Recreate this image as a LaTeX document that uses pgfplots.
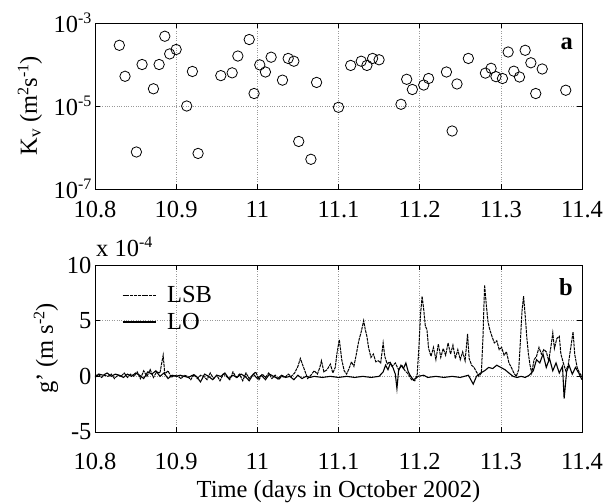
\documentclass[border=0pt]{standalone}
\usepackage{fontspec}
\setmainfont{Liberation Serif}
\usepackage{pgfplots}
\pgfplotsset{compat=1.18}
\newcommand{\ff}{\fontsize{24.5bp}{28bp}\selectfont}
\newcommand{\sups}[1]{\raisebox{0.75ex}{\fontsize{16bp}{16bp}\selectfont #1}}
\pgfplotsset{common/.style={
  scale only axis, width=487bp,
  xmin=10.8, xmax=11.4,
  xtick={10.8,10.9,11,11.1,11.2,11.3,11.4},
  xticklabels={10.8,10.9,11,11.1,11.2,11.3,11.4},
  tick label style={font=\ff},
  xticklabel style={yshift=-9bp},
  label style={font=\ff},
  axis line style={line width=0.8bp},
  major tick length=5bp,
  tick style={line width=0.6bp, black},
  grid=major,
  major grid style={dotted, gray!80, line width=0.5bp},
  clip mode=individual,
}}
\begin{document}
\begin{tikzpicture}
\useasboundingbox (0,0) rectangle (613bp,-504bp);
\begin{axis}[common, name=top, at={(95bp,-23bp)}, anchor=north west,
  height=166bp, ymode=log, ymin=1e-7, ymax=1e-3,
  ytick={1e-7,1e-5,1e-3}, yminorticks=false,
  yticklabels={10\sups{-7},10\sups{-5},10\sups{-3}},
  ylabel={K\textsubscript{v} (m\sups{2}s\sups{-1})},
  every axis y label/.style={at={(rel axis cs:0,0.5)}, xshift=-65bp, rotate=90, anchor=center, font=\ff},
]
\addplot[only marks, mark=o, mark size=5.2bp, mark options={line width=0.8bp, black}] table {
x y
10.830 2.9e-4
10.837 5.2e-5
10.851 7.8e-7
10.858 1.0e-4
10.872 2.6e-5
10.879 1.0e-4
10.886 4.8e-4
10.892 1.8e-4
10.900 2.3e-4
10.913 1.0e-5
10.920 6.8e-5
10.927 7.2e-7
10.955 5.4e-5
10.969 6.3e-5
10.976 1.6e-4
10.990 4.0e-4
10.996 2.0e-5
11.003 9.8e-5
11.010 6.6e-5
11.017 1.5e-4
11.031 4.2e-5
11.038 1.4e-4
11.045 1.2e-4
11.051 1.4e-6
11.066 5.2e-7
11.073 3.7e-5
11.100 9.3e-6
11.115 9.5e-5
11.128 1.2e-4
11.135 9.5e-5
11.142 1.4e-4
11.150 1.3e-4
11.177 1.1e-5
11.184 4.4e-5
11.191 2.5e-5
11.205 3.2e-5
11.211 4.6e-5
11.233 6.6e-5
11.240 2.5e-6
11.246 3.4e-5
11.260 1.4e-4
11.281 6.2e-5
11.288 8.1e-5
11.294 5.1e-5
11.302 4.6e-5
11.309 2.0e-4
11.316 6.9e-5
11.323 5.0e-5
11.330 2.2e-4
11.337 1.1e-4
11.343 2.0e-5
11.351 7.8e-5
11.380 2.4e-5
};
\node[anchor=base east, inner sep=0pt, font=\ff\bfseries] at (rel axis cs:1,1) [xshift=-9bp, yshift=-26bp] {a};
\end{axis}
\begin{axis}[common, name=bot, at={(95bp,-265bp)}, anchor=north west,
  height=167bp, ymin=-5, ymax=10,
  ytick={-5,0,5,10}, yticklabels={-5,0,5,10},
  xticklabel style={yshift=-9bp},
  ylabel={g' (m s\sups{-2})},
  every axis y label/.style={at={(rel axis cs:0,0.5)}, xshift=-49bp, rotate=90, anchor=center, font=\ff},
  xlabel={Time (days in October 2002)},
  every axis x label/.style={at={(rel axis cs:0.5,0)}, yshift=-65bp, anchor=base, font=\ff},
  legend style={draw=none, fill=none, inner sep=0pt, at={(rel axis cs:0.055,0.885)}, anchor=north west, font=\ff, row sep=5bp, column sep=9bp, nodes={inner sep=2bp}},
  legend cell align=left,
  legend image code/.code={\draw[#1] (0bp,0bp) -- (33bp,0bp);},
]
\addplot[black, line width=1bp, dash pattern=on 3bp off 0.8bp] table {
x y
10.800 0.0
10.804 0.2
10.808 -0.1
10.812 0.1
10.816 0.0
10.820 0.2
10.824 -0.2
10.828 0.1
10.832 0.0
10.836 0.3
10.840 -0.1
10.844 0.2
10.848 0.0
10.852 0.4
10.856 -0.2
10.860 0.5
10.864 0.0
10.868 0.6
10.872 -0.1
10.876 0.4
10.880 0.3
10.884 1.9
10.886 0.2
10.890 0.5
10.894 -0.1
10.898 0.1
10.902 0.0
10.906 -0.2
10.910 0.1
10.914 0.0
10.918 -0.3
10.922 0.2
10.926 -0.2
10.930 0.1
10.934 0.0
10.938 -0.3
10.942 0.3
10.946 -0.2
10.950 0.1
10.954 -0.4
10.958 0.2
10.962 0.0
10.966 -0.3
10.970 0.4
10.974 -0.1
10.978 0.2
10.982 -0.4
10.986 0.3
10.990 -0.2
10.994 0.1
10.998 0.4
11.002 -0.3
11.006 0.2
11.010 -0.1
11.014 0.3
11.018 -0.2
11.022 0.1
11.026 -0.3
11.030 0.0
11.034 -0.1
11.038 0.2
11.042 0.0
11.046 0.3
11.050 0.9
11.053 1.6
11.056 1.0
11.059 0.4
11.062 -0.2
11.066 0.1
11.070 0.5
11.074 0.2
11.077 0.8
11.079 1.4
11.082 0.4
11.086 0.6
11.090 1.1
11.093 0.3
11.096 0.8
11.098 2.0
11.101 3.3
11.104 1.5
11.107 0.5
11.110 0.2
11.113 0.7
11.116 1.3
11.119 0.9
11.122 2.0
11.125 3.2
11.128 4.0
11.131 5.0
11.133 4.2
11.135 3.6
11.137 2.6
11.140 1.7
11.143 2.0
11.146 1.3
11.149 1.4
11.152 1.2
11.155 3.0
11.157 1.8
11.160 1.1
11.163 1.3
11.166 0.9
11.170 1.2
11.174 0.6
11.178 1.0
11.182 0.5
11.186 0.2
11.190 -0.3
11.194 -0.4
11.197 0.2
11.199 2.5
11.201 5.5
11.203 7.2
11.205 6.0
11.207 4.5
11.209 4.2
11.211 2.5
11.214 1.8
11.217 2.6
11.220 1.5
11.223 2.9
11.226 1.7
11.229 2.5
11.232 1.9
11.235 3.0
11.238 2.0
11.241 2.8
11.244 1.6
11.247 2.4
11.250 1.5
11.253 2.2
11.256 1.4
11.259 3.8
11.261 1.6
11.264 1.0
11.267 0.8
11.270 0.4
11.273 0.0
11.276 0.3
11.278 3.5
11.280 8.2
11.282 6.5
11.284 5.0
11.286 4.3
11.289 3.6
11.292 3.0
11.295 3.2
11.298 2.4
11.301 2.6
11.304 1.9
11.307 2.2
11.310 1.2
11.313 0.8
11.316 0.3
11.319 0.0
11.322 0.6
11.324 3.0
11.326 5.8
11.328 7.2
11.330 5.5
11.332 3.5
11.334 2.0
11.336 1.0
11.338 0.3
11.341 1.5
11.344 1.8
11.347 2.6
11.350 2.0
11.353 2.4
11.356 2.2
11.359 1.4
11.362 2.8
11.364 3.9
11.366 2.5
11.369 3.4
11.372 3.6
11.374 2.0
11.377 1.2
11.380 0.5
11.383 1.0
11.386 2.5
11.389 4.0
11.391 2.0
11.394 0.8
11.397 0.3
11.400 0.0
};
\addlegendentry{LSB}
\addplot[black, line width=1.1bp] table {
x y
10.800 -0.1
10.805 0.2
10.810 0.1
10.815 0.3
10.820 0.0
10.825 0.2
10.830 0.1
10.835 -0.1
10.840 0.2
10.845 0.0
10.850 0.3
10.855 0.1
10.860 -0.2
10.865 0.4
10.870 0.2
10.875 0.5
10.880 0.0
10.885 0.3
10.890 -0.2
10.895 0.1
10.900 0.0
10.905 0.1
10.910 0.0
10.915 -0.1
10.920 0.1
10.925 0.0
10.930 -0.5
10.935 0.2
10.940 0.0
10.945 -0.3
10.950 0.1
10.955 0.0
10.960 0.3
10.965 -0.2
10.970 0.1
10.975 -0.1
10.980 0.2
10.985 0.0
10.990 -0.4
10.995 0.2
11.000 -0.2
11.005 0.1
11.010 -0.3
11.015 0.2
11.020 0.0
11.025 -0.2
11.030 0.1
11.035 -0.1
11.040 0.0
11.045 -0.3
11.050 0.1
11.055 -0.2
11.060 0.0
11.065 -0.1
11.070 0.0
11.080 -0.1
11.090 0.0
11.100 -0.1
11.110 0.0
11.120 -0.1
11.130 0.0
11.140 -0.1
11.150 0.0
11.155 0.4
11.158 1.0
11.161 0.6
11.164 1.2
11.167 0.8
11.170 0.2
11.172 -1.1
11.174 0.5
11.177 1.0
11.180 0.7
11.183 1.2
11.186 0.4
11.189 0.0
11.192 -0.3
11.195 -0.2
11.198 0.0
11.205 0.1
11.210 -0.1
11.220 0.0
11.230 -0.1
11.240 0.0
11.250 -0.1
11.260 0.1
11.266 -0.7
11.270 0.0
11.275 0.3
11.280 0.5
11.285 0.8
11.290 0.7
11.295 1.0
11.300 0.8
11.305 0.6
11.310 0.3
11.315 0.0
11.320 -0.1
11.325 0.0
11.330 -0.1
11.335 0.1
11.340 0.5
11.344 1.5
11.348 1.2
11.352 2.0
11.356 0.8
11.360 1.6
11.364 0.5
11.368 1.2
11.372 0.3
11.376 0.9
11.378 -2.0
11.381 0.4
11.384 1.0
11.388 0.2
11.392 0.8
11.396 0.3
11.400 -0.3
};
\addlegendentry{LO}
\node[anchor=base east, inner sep=0pt, font=\ff\bfseries] at (rel axis cs:1,1) [xshift=-9bp, yshift=-30bp] {b};
\node[anchor=base west, inner sep=0pt, font=\ff] at (rel axis cs:0,1) [xshift=1bp, yshift=9bp] {x 10\sups{-4}};
\end{axis}
\end{tikzpicture}
\end{document}
